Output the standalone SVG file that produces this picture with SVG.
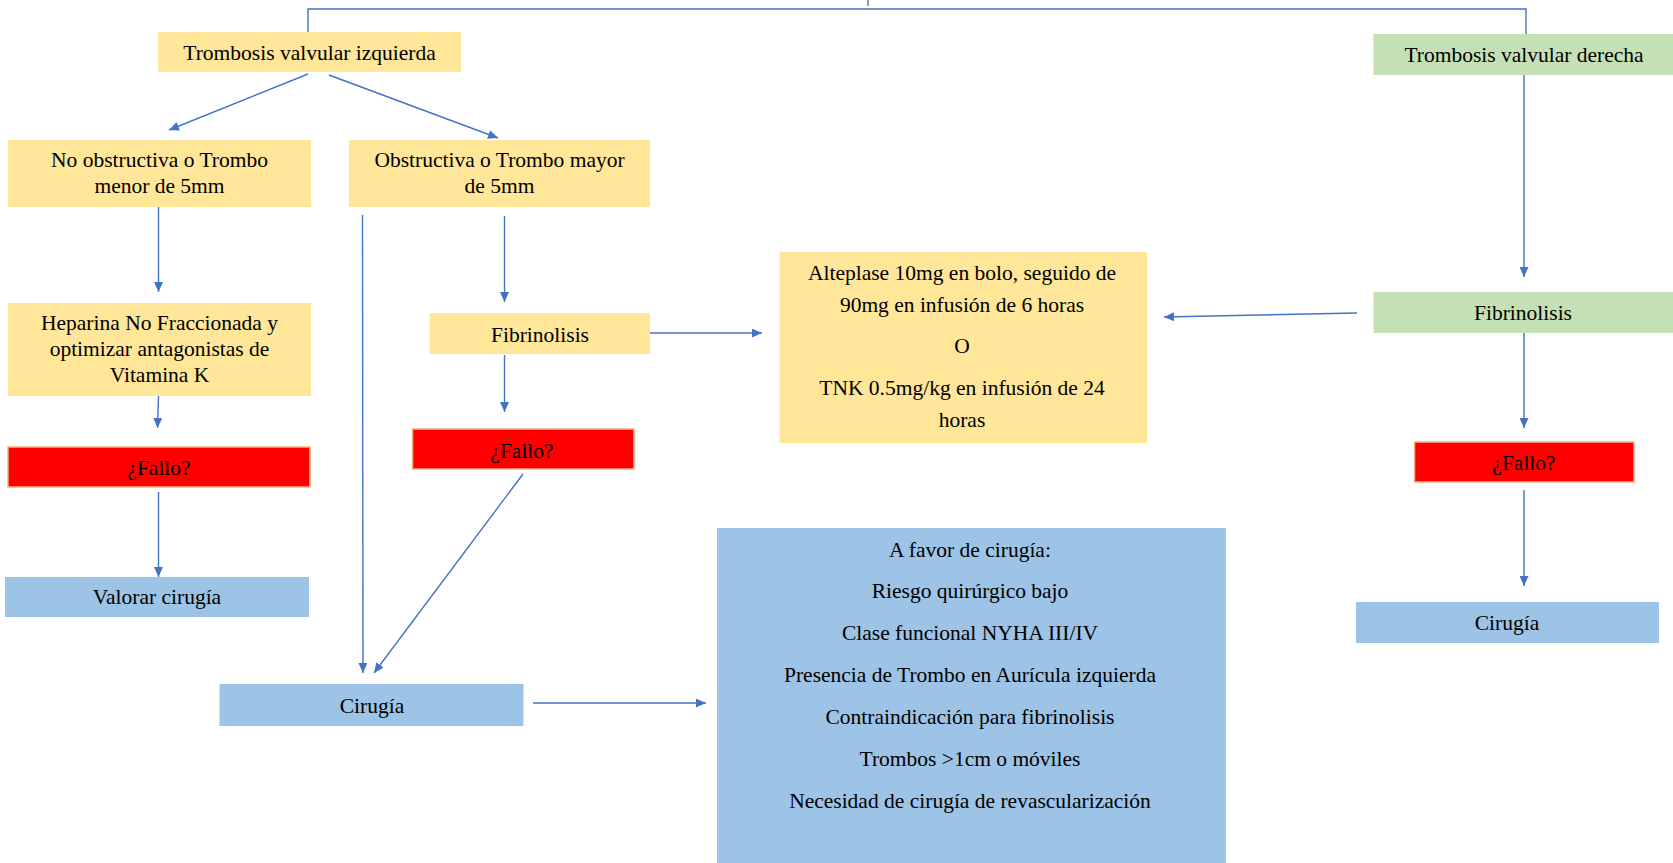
<svg xmlns="http://www.w3.org/2000/svg" width="1673" height="863" viewBox="0 0 1673 863">
<style>
  text { font-family: "Liberation Serif", "Times New Roman", serif; font-size: 21.5px; fill: #000; text-anchor: middle; }
  .y { fill: #FFE699; }
  .g { fill: #C5E0B4; }
  .r { fill: #FF0000; stroke: #F4B183; stroke-width: 1.5; }
  .b { fill: #9DC3E6; }
  .c { fill: none; stroke: #4472C4; stroke-width: 1.4; }
  .a { marker-end: url(#arr); }
</style>
<defs>
  <marker id="arr" markerUnits="userSpaceOnUse" markerWidth="11" markerHeight="9" refX="10" refY="4.5" orient="auto">
    <path d="M0,0 L10,4.5 L0,9 z" fill="#4472C4"/>
  </marker>
</defs>
<rect width="1673" height="863" fill="#fff"/>
<g id="connectors">
  <polyline class="c" points="308,32 308,9 1526,9 1526,34"/>
  <line class="c" x1="868" y1="0" x2="868" y2="6"/>
  <line class="c a" x1="308" y1="74" x2="169" y2="130"/>
  <line class="c a" x1="329" y1="75" x2="498" y2="138"/>
  <line class="c a" x1="158.5" y1="207" x2="158.5" y2="292"/>
  <line class="c a" x1="158.5" y1="396" x2="157.5" y2="428"/>
  <line class="c a" x1="158.5" y1="492" x2="158.5" y2="577"/>
  <line class="c a" x1="362.5" y1="215" x2="363" y2="673"/>
  <line class="c a" x1="504.5" y1="216" x2="504.5" y2="302"/>
  <line class="c a" x1="504.5" y1="355" x2="504.5" y2="412"/>
  <line class="c a" x1="523" y1="474" x2="374" y2="673"/>
  <line class="c a" x1="650" y1="333" x2="762" y2="333"/>
  <line class="c a" x1="1357" y1="313" x2="1164" y2="317"/>
  <line class="c a" x1="1524" y1="75" x2="1524" y2="277"/>
  <line class="c a" x1="1524" y1="333" x2="1524" y2="428"/>
  <line class="c a" x1="1524" y1="490" x2="1524" y2="586"/>
  <line class="c a" x1="533" y1="703" x2="706" y2="703"/>
</g>
<g id="n-izquierda">
  <rect class="y" x="158" y="32" width="303" height="40"/>
  <text x="309.5" y="60">Trombosis valvular izquierda</text>
</g>
<g id="n-noobstructiva">
  <rect class="y" x="8" y="140" width="303" height="67"/>
  <text x="159.5" y="167">No obstructiva o Trombo</text>
  <text x="159.5" y="193">menor de 5mm</text>
</g>
<g id="n-obstructiva">
  <rect class="y" x="349" y="140" width="301" height="67"/>
  <text x="499.5" y="167">Obstructiva o Trombo mayor</text>
  <text x="499.5" y="193">de 5mm</text>
</g>
<g id="n-heparina">
  <rect class="y" x="8" y="303" width="303" height="93"/>
  <text x="159.5" y="330">Heparina No Fraccionada y</text>
  <text x="159.5" y="356">optimizar antagonistas de</text>
  <text x="159.5" y="382">Vitamina K</text>
</g>
<g id="n-fallo-izq">
  <rect class="r" x="8" y="447" width="302" height="40"/>
  <text x="159" y="475">¿Fallo?</text>
</g>
<g id="n-valorar">
  <rect class="b" x="5" y="577" width="304" height="40"/>
  <text x="157" y="604">Valorar cirugía</text>
</g>
<g id="n-fibrinolisis-izq">
  <rect class="y" x="429.5" y="313" width="220.5" height="41"/>
  <text x="540" y="342">Fibrinolisis</text>
</g>
<g id="n-fallo-medio">
  <rect class="r" x="412.5" y="429" width="221.5" height="40"/>
  <text x="522" y="458">¿Fallo?</text>
</g>
<g id="n-cirugia-izq">
  <rect class="b" x="219.5" y="684" width="304" height="42"/>
  <text x="372" y="713">Cirugía</text>
</g>
<g id="n-alteplase">
  <rect class="y" x="779.5" y="252" width="367.5" height="191"/>
  <text x="962" y="280">Alteplase 10mg en bolo, seguido de</text>
  <text x="962" y="312">90mg en infusión de 6 horas</text>
  <text x="962" y="353">O</text>
  <text x="962" y="395">TNK 0.5mg/kg en infusión de 24</text>
  <text x="962" y="427">horas</text>
</g>
<g id="n-favor">
  <rect class="b" x="717" y="528" width="509" height="340"/>
  <text x="970" y="557">A favor de cirugía:</text>
  <text x="970" y="598">Riesgo quirúrgico bajo</text>
  <text x="970" y="640">Clase funcional NYHA III/IV</text>
  <text x="970" y="682">Presencia de Trombo en Aurícula izquierda</text>
  <text x="970" y="724">Contraindicación para fibrinolisis</text>
  <text x="970" y="766">Trombos &gt;1cm o móviles</text>
  <text x="970" y="808">Necesidad de cirugía de revascularización</text>
</g>
<g id="n-derecha">
  <rect class="g" x="1373.5" y="34" width="300" height="41"/>
  <text x="1524" y="62">Trombosis valvular derecha</text>
</g>
<g id="n-fibrinolisis-der">
  <rect class="g" x="1373.5" y="292" width="300" height="41"/>
  <text x="1523" y="320">Fibrinolisis</text>
</g>
<g id="n-fallo-der">
  <rect class="r" x="1414.5" y="442" width="219.5" height="40"/>
  <text x="1524" y="470">¿Fallo?</text>
</g>
<g id="n-cirugia-der">
  <rect class="b" x="1356" y="602" width="303" height="41"/>
  <text x="1507" y="630">Cirugía</text>
</g>
</svg>
